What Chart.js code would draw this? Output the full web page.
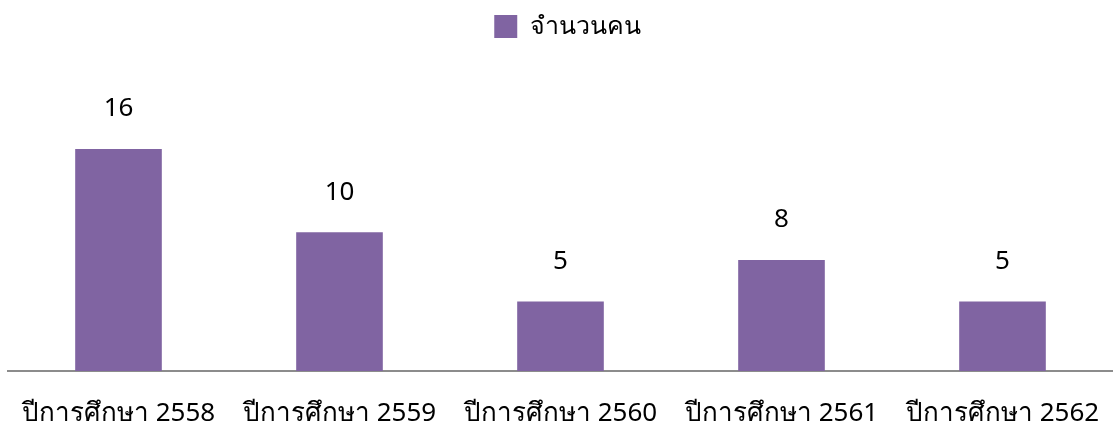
<!DOCTYPE html>
<html>
<head>
<meta charset="utf-8">
<script src="https://cdn.jsdelivr.net/npm/chart.js@4/dist/chart.umd.min.js"></script>
<style>
html,body{margin:0;padding:0;background:#fff;}
#wrap{width:1113px;height:437px;position:relative;}
</style>
</head>
<body>
<div id="wrap"><canvas id="c" width="1113" height="437"></canvas></div>
<script>
const categories = ["ปีการศึกษา 2558","ปีการศึกษา 2559","ปีการศึกษา 2560","ปีการศึกษา 2561","ปีการศึกษา 2562"];
const seriesName = "จำนวนคน";
const values = [16, 10, 5, 8, 5];

const FONT = "'Noto Sans', 'DejaVu Sans', sans-serif";

const valueLabels = {
  id: 'valueLabels',
  afterLayout(chart) {
    if (chart.legend) { chart.legend.left += 14; }
  },
  afterDatasetsDraw(chart) {
    const ctx = chart.ctx;
    const meta = chart.getDatasetMeta(0);
    ctx.save();
    ctx.fillStyle = '#000';
    ctx.font = '26px ' + FONT;
    ctx.textAlign = 'center';
    ctx.textBaseline = 'middle';
    meta.data.forEach((bar, i) => {
      ctx.fillText(String(values[i]), bar.x, bar.y - 40);
    });
    ctx.restore();
  }
};

new Chart(document.getElementById('c'), {
  type: 'bar',
  data: {
    labels: categories,
    datasets: [{
      label: seriesName,
      data: values,
      backgroundColor: '#8064A2',
      borderWidth: 0,
      categoryPercentage: 0.8,
      barPercentage: 0.49
    }]
  },
  options: {
    responsive: false,
    animation: false,
    layout: { padding: { left: 8, right: 0, top: 0, bottom: 0 } },
    plugins: {
      legend: {
        position: 'top',
        labels: {
          boxWidth: 23, boxHeight: 23,
          color: '#000',
          font: { size: 25, family: FONT },
          padding: 14
        }
      },
      tooltip: { enabled: false }
    },
    scales: {
      x: {
        grid: { display: false, drawTicks: false },
        border: { display: true, color: '#8c8c8c', width: 2 },
        ticks: { color: '#000', font: { size: 26, family: FONT }, padding: 27, maxRotation: 0, autoSkip: false },
        afterFit(scale) { scale.height = 66; scale.paddingLeft = 0; scale.paddingRight = 0; }
      },
      y: {
        display: false,
        min: 0, max: 23.2
      }
    }
  },
  plugins: [valueLabels]
});
</script>
</body>
</html>
